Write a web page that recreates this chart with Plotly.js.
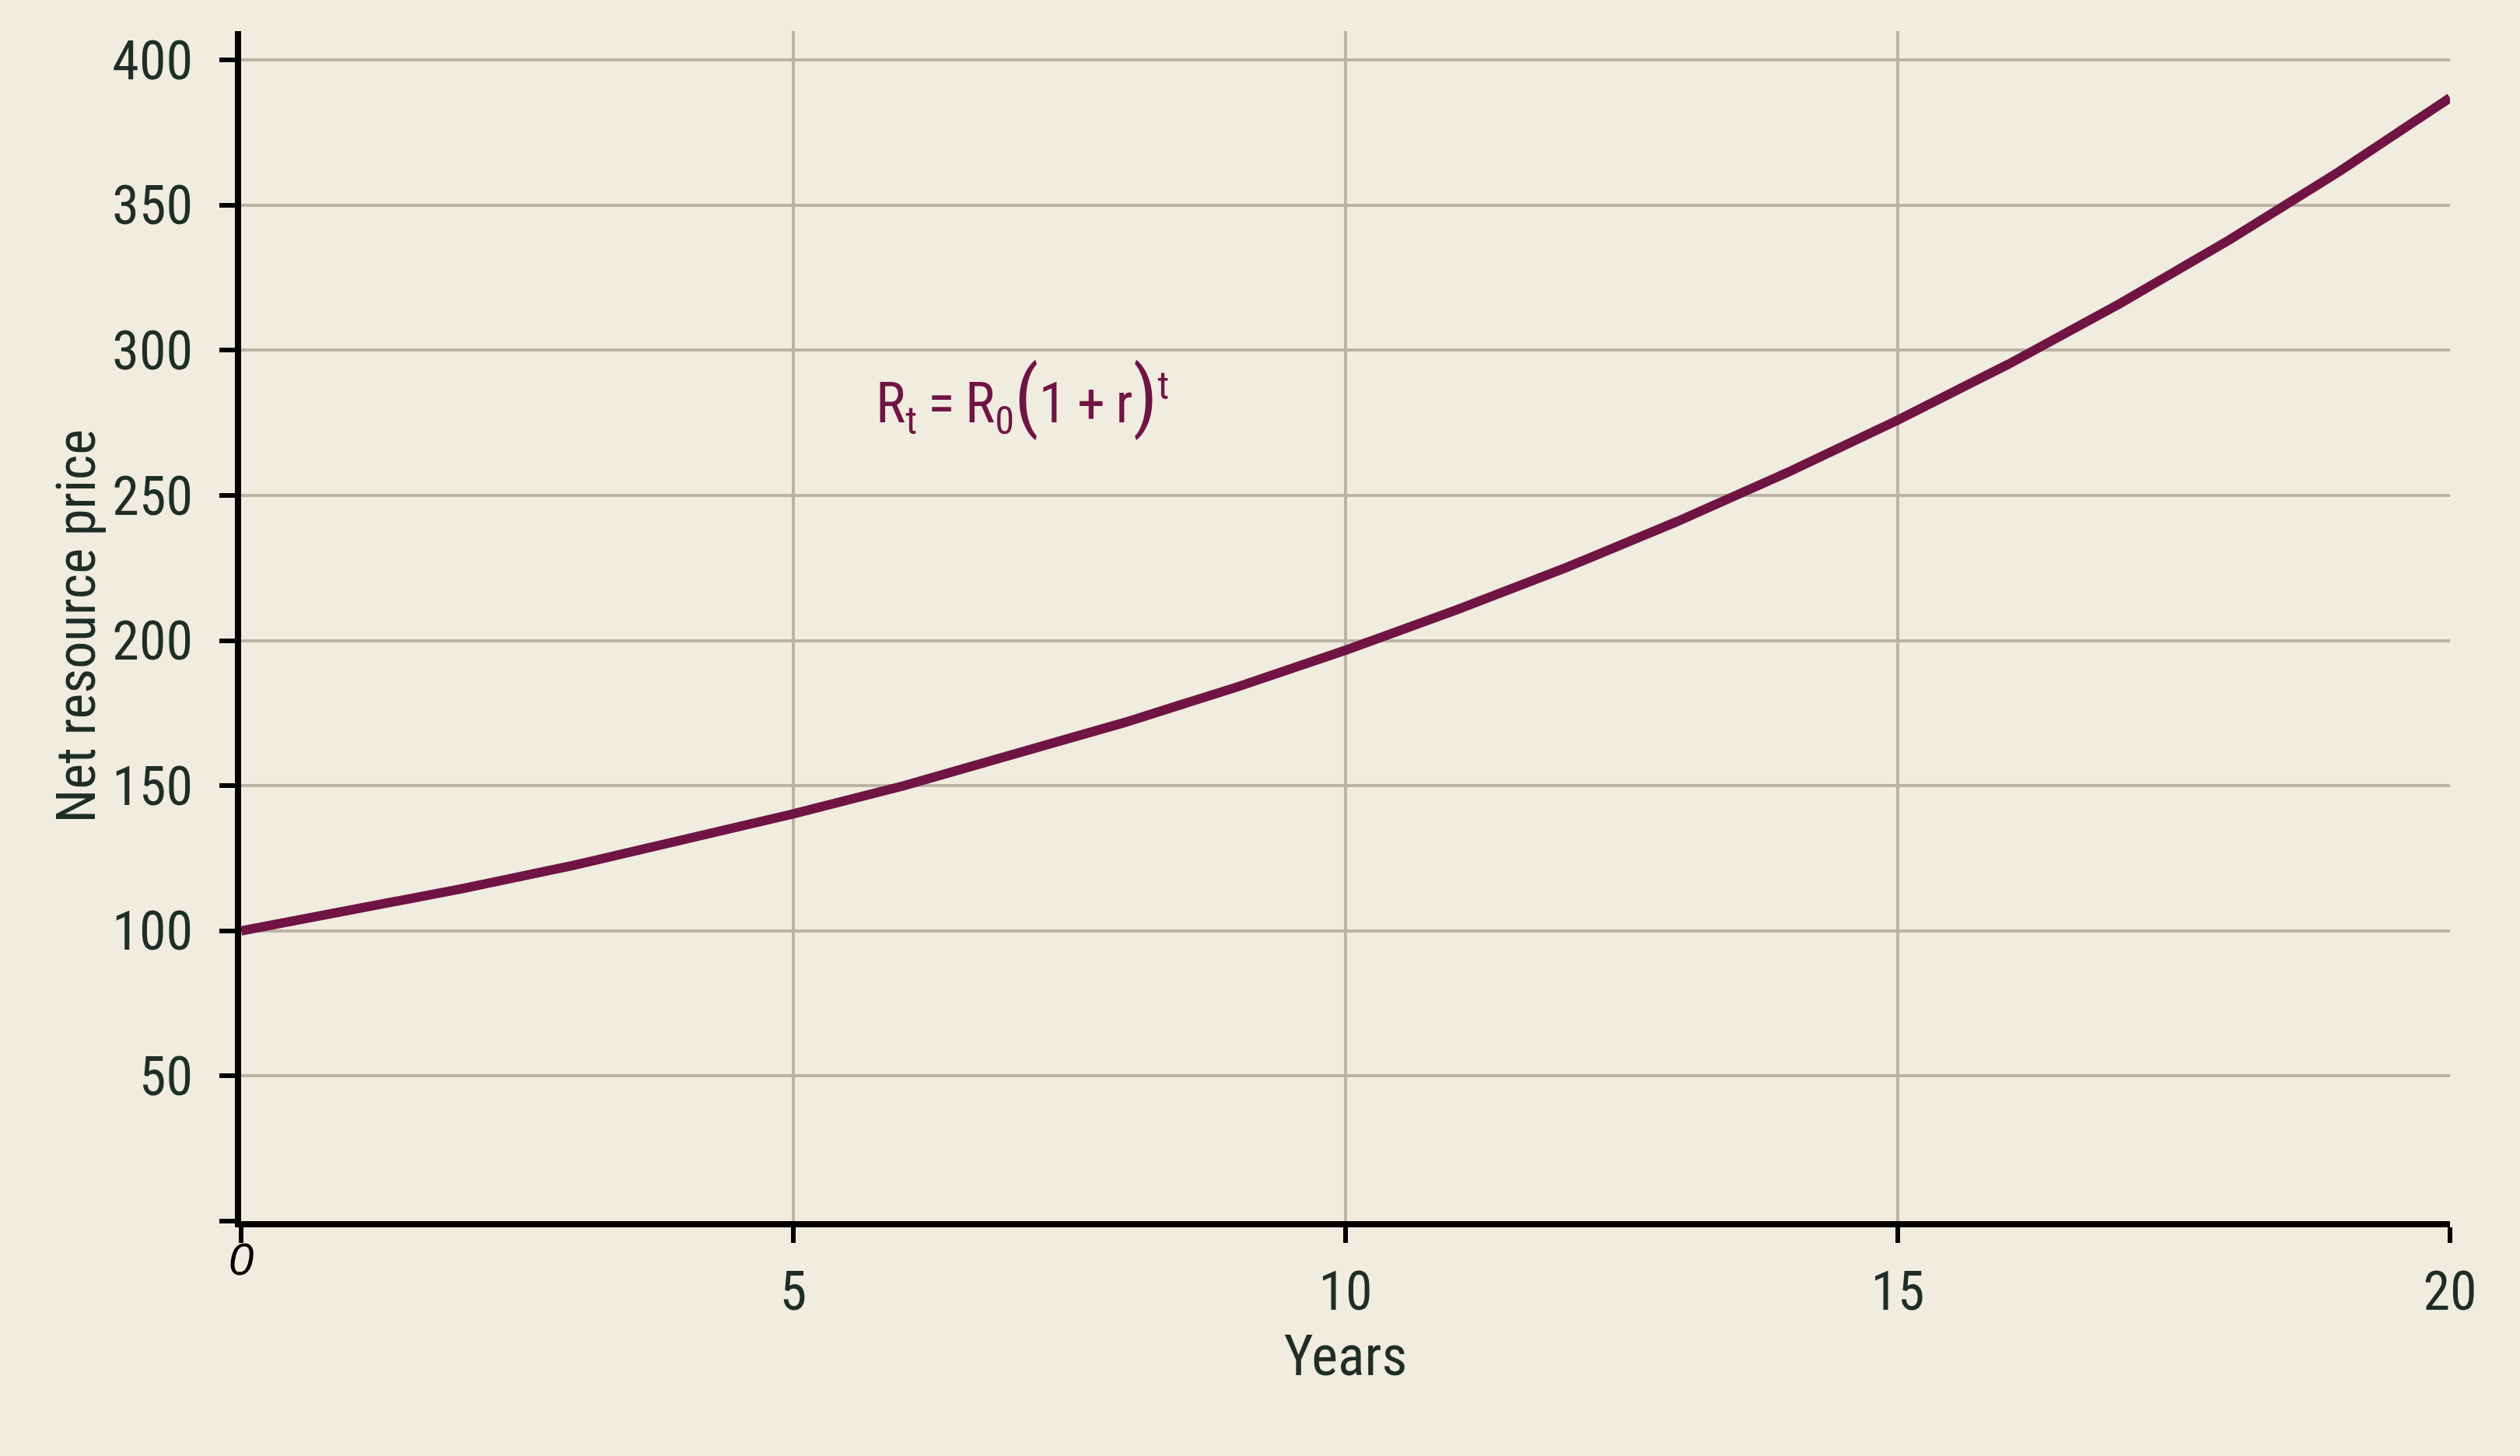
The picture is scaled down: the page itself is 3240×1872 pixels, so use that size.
<!DOCTYPE html>
<html>
<head>
<meta charset="utf-8">
<script src="https://cdn.plot.ly/plotly-3.0.1.min.js"></script>
<style>
  html, body { margin: 0; padding: 0; background: #f0ece0; }
</style>
</head>
<body>
<div id="container"></div>
<script>
// Роки та ціна ресурсу
const years = [0, 1, 2, 3, 4, 5, 6, 7, 8, 9, 10, 11, 12, 13, 14, 15, 16, 17, 18, 19, 20];
const price = [100, 107, 114.5, 122.5, 131, 140.3, 150, 160.6, 171.8, 183.8, 196.7,
  210.5, 225.2, 241, 257.9, 276, 295.2, 315.9, 338, 361.7, 387];

const xTicks = [5, 10, 15, 20];
const yTicks = [50, 100, 150, 200, 250, 300, 350, 400];

const BG = "#f0ece0";
const GRID = "#bcb3a6";
const TEXT = "#1e2e26";
const LINE = "#701443";
const FONT = "'Liberation Sans Narrow', 'Roboto Condensed', 'DejaVu Sans Condensed', 'Liberation Sans', sans-serif";

// спільні налаштування осей
const axisBase = () => ({
  ticks: "outside",
  ticklen: 20,
  tickwidth: 6,
  tickcolor: "#000",
  showline: true,
  linecolor: "#000",
  linewidth: 8,
  showgrid: true,
  gridcolor: GRID,
  gridwidth: 4,
  zeroline: false,
  tickfont: { family: FONT, size: 70, color: TEXT },
  // риска в нулі без підпису
  minor: { tickmode: "array", tickvals: [0], ticks: "outside", ticklen: 20, tickwidth: 6, tickcolor: "#000", showgrid: false }
});

const start = () => {
  const data = [{
    x: years,
    y: price,
    mode: "lines",
    type: "scatter",
    line: { color: LINE, width: 12 },
    hoverinfo: "skip"
  }];

  const layout = {
    width: 3240,
    height: 1872,
    paper_bgcolor: BG,
    plot_bgcolor: BG,
    showlegend: false,
    margin: { l: 310, r: 90, t: 40, b: 302 },
    font: { family: FONT, color: TEXT, size: 70 },
    xaxis: Object.assign(axisBase(), {
      range: [0, 20],
      tickmode: "array",
      tickvals: xTicks,
      ticklabelstandoff: 2,
      title: { text: "Years", font: { family: FONT, size: 72, color: TEXT }, standoff: 14 }
    }),
    yaxis: Object.assign(axisBase(), {
      range: [0, 410],
      tickmode: "array",
      tickvals: yTicks,
      ticklabelstandoff: 20,
      title: { text: "Net resource price", font: { family: FONT, size: 70, color: TEXT }, standoff: 2 }
    }),
    annotations: [
      {
        // курсивний нуль в початку координат
        x: 0, y: 0, xref: "x", yref: "y",
        text: "0", showarrow: false,
        xanchor: "center", yanchor: "top", yshift: -14,
        font: { family: "'Liberation Sans', sans-serif", size: 58, color: "#000", style: "italic" }
      },
      {
        x: 5.73, y: 284, xref: "x", yref: "y",
        text: 'R<sub>t</sub>\u2009=\u2009R<sub>0</sub><span style="font-size:100px">(</span>1\u2009+\u2009r<span style="font-size:100px">)</span><sup>t</sup>',
        showarrow: false,
        xanchor: "left", yanchor: "middle",
        font: { family: FONT, size: 72, color: LINE }
      }
    ]
  };

  Plotly.newPlot("container", data, layout, { displayModeBar: false, staticPlot: true });
};

start();
</script>
</body>
</html>
